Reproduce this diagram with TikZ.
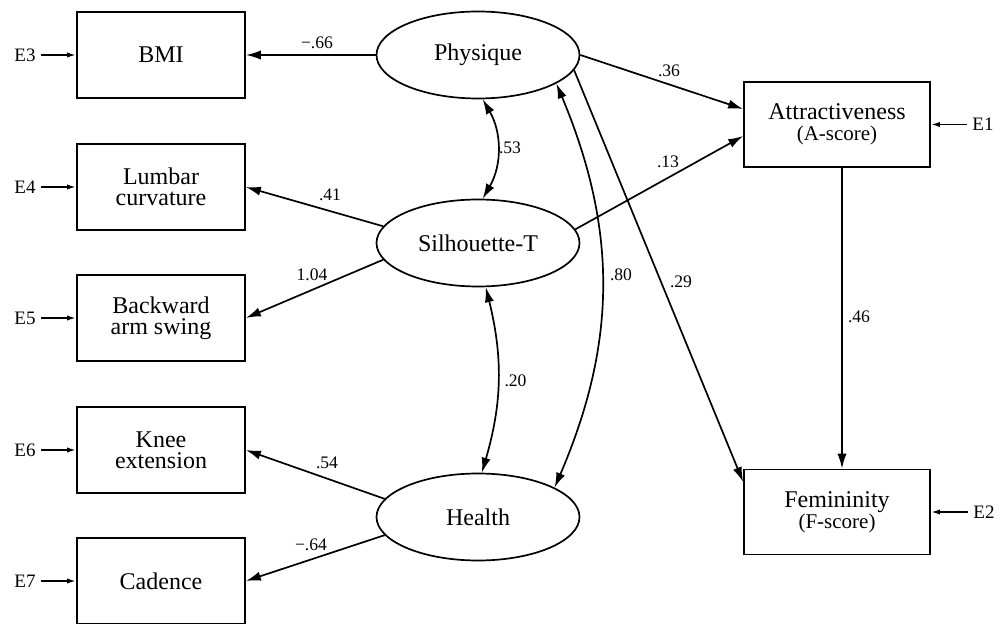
\documentclass[tikz,border=0pt]{standalone}
\usepackage{fontspec}
\setmainfont{Liberation Serif}
\usetikzlibrary{arrows.meta,shapes.geometric}

\begin{document}
\begin{tikzpicture}[x=0.5pt, y=-0.5pt, line width=0.85pt,
  >={Latex[length=7.5pt,width=4.6pt]},
  obsbox/.style={draw, rectangle, minimum width=84pt, minimum height=43pt, inner sep=1pt, align=center, font=\fontsize{12}{10.5}\selectfont},
  scorebox/.style={obsbox, minimum width=93pt, minimum height=42.5pt},
  latent/.style={draw, ellipse, minimum width=101.5pt, minimum height=43.5pt, inner sep=0pt, font=\fontsize{12}{10.5}\selectfont},
  errlabel/.style={inner sep=2.5pt, font=\fontsize{9.5}{10}\selectfont},
  coef/.style={inner sep=0pt, font=\fontsize{8.8}{9}\selectfont},
  errarrow/.style={-{Latex[length=4.5pt,width=2.6pt]}}]
\useasboundingbox (0,0) rectangle (1005,624);

\node[obsbox] (bmi) at (161,55) {BMI};
\node[obsbox] (lumbar) at (161,187) {Lumbar\\curvature};
\node[obsbox] (arm) at (161,318) {Backward\\arm swing};
\node[obsbox] (knee) at (161,450) {Knee\\extension};
\node[obsbox] (cadence) at (161,581) {Cadence};

\node[latent] (phys) at (478,55) {Physique};
\node[latent] (sil) at (478,243) {Silhouette-T};
\node[latent] (health) at (478,517) {Health};

\node[scorebox] (attr) at (837,124.5) {Attractiveness\\{\fontsize{10.5}{9.5}\selectfont (A-score)}};
\node[scorebox] (fem) at (837,512) {Femininity\\{\fontsize{10.5}{9.5}\selectfont (F-score)}};

\node[errlabel] (e3) at (25,55) {E3};
\node[errlabel] (e4) at (25,187) {E4};
\node[errlabel] (e5) at (25,318) {E5};
\node[errlabel] (e6) at (25,450) {E6};
\node[errlabel] (e7) at (25,581) {E7};
\node[errlabel] (e1) at (983,124.5) {E1};
\node[errlabel] (e2) at (984,512) {E2};

\draw[errarrow] (e3) -- (bmi);
\draw[errarrow] (e4) -- (lumbar);
\draw[errarrow] (e5) -- (arm);
\draw[errarrow] (e6) -- (knee);
\draw[errarrow] (e7) -- (cadence);
\draw[errarrow] (e1) -- (attr);
\draw[errarrow] (e2) -- (fem);

\draw[->] (phys) -- (bmi);
\draw[->] (sil.170) -- (lumbar.east);
\draw[->] (sil.190) -- (arm.east);
\draw[->] (health.169) -- (knee.east);
\draw[->] (health.191) -- (cadence.east);
\draw[->] (phys.east) -- ([yshift=7.75pt]attr.west);
\draw[->] (sil.8) -- ([yshift=-5.75pt]attr.west);
\draw[->] (phys.-9) -- ([yshift=15pt]fem.west);
\draw[->] ([xshift=2.5pt]attr.south) -- ([xshift=2.5pt]fem.north);

\draw[<->] (phys.-84) to[bend left=30] (sil.84);
\draw[<->] (sil.-80) to[bend left=15] (health.85);
\draw[<->] (phys.-20) to[bend left=23] (health.21);

\node[coef] (c1) at (317,43) {−.66};
\node[coef] (c2) at (330,195) {.41};
\node[coef] (c3) at (312,275) {1.04};
\node[coef] (c4) at (327,463) {.54};
\node[coef] (c5) at (311,545) {−.64};
\node[coef] (c6) at (669,71) {.36};
\node[coef] (c7) at (668,162) {.13};
\node[coef] (c8) at (681,282) {.29};
\node[coef] (c9) at (621,274.5) {.80};
\node[coef] (c10) at (859,317) {.46};
\node[coef] (c11) at (510,148) {.53};
\node[coef] (c12) at (515.5,381) {.20};
\end{tikzpicture}
\end{document}
